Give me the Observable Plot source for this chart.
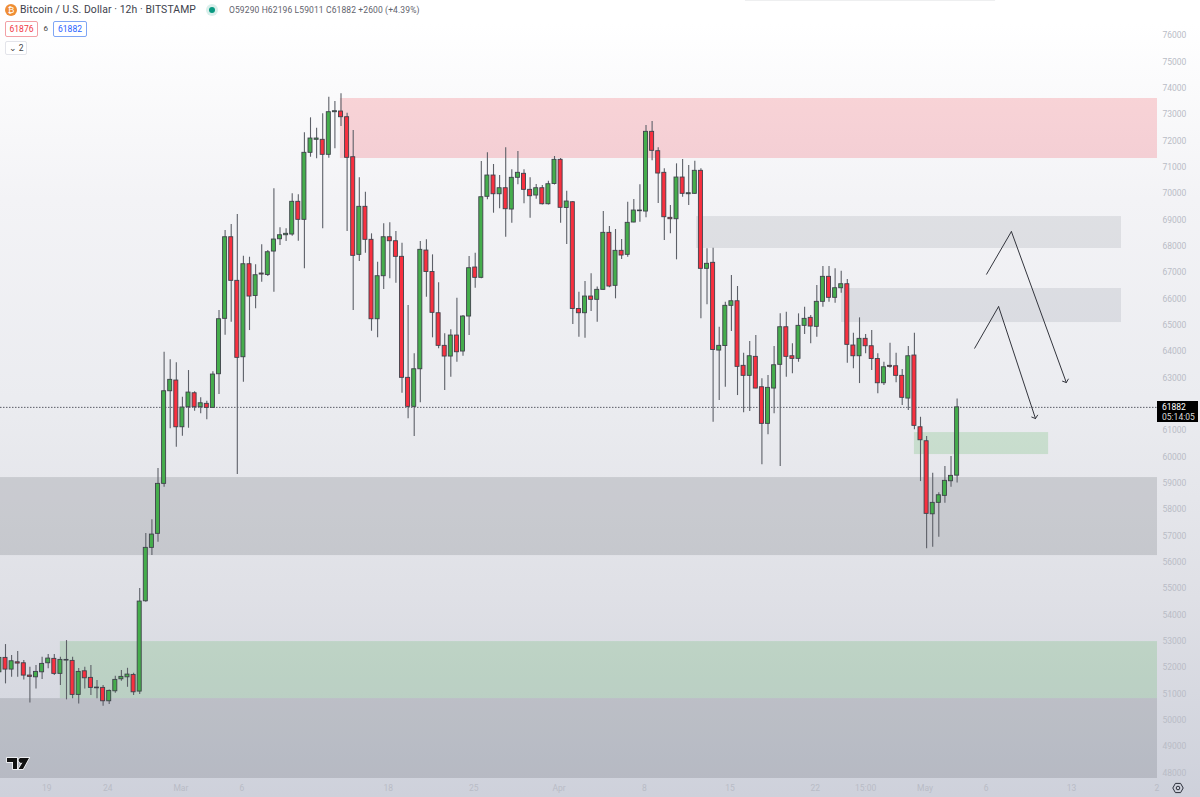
<!DOCTYPE html>
<html>
<head>
<meta charset="utf-8">
<script src="https://cdn.jsdelivr.net/npm/d3@7"></script>
<script src="https://cdn.jsdelivr.net/npm/@observablehq/plot@0.6"></script>
<style>
html,body{margin:0;padding:0;background:#fff;overflow:hidden}
#wrap{position:relative;width:1200px;height:797px;font-family:Roboto,"Liberation Sans",sans-serif}
#wrap svg{display:block}
.ov{position:absolute;white-space:nowrap;line-height:1}
.box{position:absolute;box-sizing:border-box;border-radius:2px;text-align:center}
</style>
</head>
<body>
<div id="wrap"></div>
<script>
const open = [51824,52371,51927,52204,52167,51699,51634,51824,52167,52334,
51764,52269,52257,50966,51862,51612,51243,51232,50724,51103,
51559,51634,51725,51092,54520,56548,57080,58978,62494,62901,
61127,61887,62418,61887,62016,61864,63140,65243,68341,66686,
63785,67316,66109,66963,66906,67798,68265,68417,68444,69686,
69002,71546,72040,72040,71470,73088,73114,72898,71379,67673,
69496,68243,65228,66861,68341,68190,67597,63003,61902,63329,
67836,67020,65456,64218,63812,64609,64002,65331,67191,66800,
69876,70684,69974,70202,69393,70597,70749,70141,69925,70202,
69594,70361,71280,69450,69670,65615,65456,66090,65965,66344,
68508,66496,67825,67673,68900,69329,69317,72343,71607,70787,
69078,69025,70608,69974,69989,70863,67142,67370,64039,64210,
65737,65911,63459,63079,63800,62646,61256,62597,63497,64924,
63823,63724,64977,65281,64939,65889,66838,66041,66405,66557,
64230,63823,64484,64203,63717,62798,63459,63443,63079,62217,
63850,61127,60596,57823,58257,58522,59077,59290];
const close = [52371,51927,52243,52155,51699,51650,51839,52143,52345,51764,
52295,52295,50966,51839,51597,51232,51217,50724,51118,51536,
51650,51737,51065,54509,56548,57053,58978,62494,62927,61127,
61875,62444,61887,62038,61864,63128,65228,68341,66686,63762,
67316,66090,66899,66925,67772,68254,68417,68471,69686,69002,
71546,72089,72089,71470,73088,73126,72898,71356,67635,69496,
68243,65228,66861,68341,68190,67597,63003,61902,63329,67863,
67020,65471,64218,63812,64609,63975,65331,67165,66800,69860,
70684,69974,70202,69405,70597,70787,70141,69898,70202,69594,
70354,71280,69458,69697,65615,65456,66090,65965,66344,68508,
66470,67825,67647,68888,69355,69355,72343,71622,70760,69101,
69025,70608,69989,70012,70863,67142,67332,64059,64218,65737,
65911,63420,63079,63823,62597,61256,62623,63481,64924,63800,
63724,64977,65243,64951,65889,66838,66041,66405,66557,64256,
63823,64484,64203,63717,62798,63405,63420,63079,62244,63823,
61180,60634,57839,58257,58545,59092,59282,61882];
const high = [52497,52877,52459,52611,52269,52014,52079,52394,52497,52497,
52394,53028,52394,51965,52014,52079,51509,51320,51156,51673,
51889,51976,51786,55003,57091,57611,59559,63975,63686,63573,
62266,63280,62471,62244,62115,63231,65558,68596,68824,69203,
67620,67582,67294,68053,67836,70179,68698,68661,69989,69951,
72306,72875,72480,73027,73657,73494,73786,73050,72393,70597,
70050,68471,67392,68850,68888,68558,68113,65748,63914,68178,
68243,67673,66610,64673,64825,66025,65368,67609,67734,71216,
71546,71102,70684,71736,70901,71596,70901,70597,70343,70305,
70468,71406,71330,70088,69697,66253,66659,66952,66451,69317,
68748,68634,68254,69670,69773,70331,72583,72735,71736,70939,
69545,71128,71292,71064,71227,70939,67901,67924,64924,65873,
66887,66470,63937,64381,64609,62965,63090,64191,65433,65494,
64294,65433,65684,65368,66507,67229,67229,67142,67051,66735,
64696,65281,64647,64799,63914,63595,64317,63937,63318,64191,
64696,61507,60774,59380,58636,59635,60015,62196];
const low = [51574,51384,51634,51634,51536,50663,51194,51547,51954,51699,
51320,50777,50815,50625,51194,50940,50815,50534,50599,51027,
51483,51255,50940,50978,54482,56256,56761,58849,61066,60368,
60786,61090,61735,61636,61408,61856,62369,64621,65114,59331,
62836,64799,65623,66633,66849,66253,68026,68178,68380,68190,
67142,71379,71318,68661,71341,71698,72545,68558,65558,67419,
67734,64772,64522,66356,66762,66595,62418,61446,60774,62054,
66063,64522,64104,62521,63026,63595,63823,64609,66405,66762,
69762,69253,69420,68341,68873,70331,69610,69063,69785,69564,
69564,70324,68873,68064,65027,64544,64506,65520,65114,66337,
66420,66003,67495,67582,68888,68911,69078,71242,69621,68216,
68471,67483,69860,69545,69974,65243,65775,61317,62141,62646,
64761,62331,61674,61723,62585,59700,60838,61636,59635,63026,
63155,63595,64647,64294,64545,65684,65873,65835,66215,63557,
63345,62786,63914,63280,62396,62710,63368,62813,61951,61761,
61029,59065,56510,56571,56950,58242,58849,59011];

const lastPrice = 61882;
// 62000 is hidden behind the last-price tag in the reference
const priceTicks = d3.range(48000, 76001, 1000).filter(d => d !== 62000);
const tickDates = ["2024-02-19","2024-02-24","2024-03-01","2024-03-06","2024-03-18","2024-03-25","2024-04-01","2024-04-08","2024-04-15","2024-04-22","2024-04-26T03:00","2024-05-01","2024-05-06","2024-05-13","2024-05-20"];
const tickLabels = ["19","24","Mar","6","18","25","Apr","8","15","22","15:00","May","6","13","2"];

// zones: start / end in 12h bars from the first candle, prices for top and bottom
const zoneStart = [55.9, 114.3, 138.05, 150, 0, 10, 0, 122.3];
const zoneEnd   = [189.85, 183.95, 183.95, 172, 189.85, 189.85, 189.85, 163.3];
const zoneHigh  = [73608, 69127, 66394, 60926, 59217, 52990, 50826, 77329];
const zoneLow   = [71330, 67913, 65103, 60090, 56256, 50826, 47792, 77300];
const zoneFill  = ["rgba(242,54,69,.2)","rgba(120,123,134,.16)","rgba(120,123,134,.16)","rgba(76,175,80,.2)","rgba(42,46,57,.15)","rgba(76,175,80,.2)","rgba(42,46,57,.15)","rgba(120,123,134,.16)"];

// the two hand-drawn forecast paths: up-leg start, peak, arrow tip
const pathBar   = [[159.85, 163.8, 169.85], [161.8, 165.9, 174.9]];
const pathPrice = [[64115, 65710, 61457], [66925, 68558, 62824]];

const barMs = 12 * 3600e3;
const t0 = Date.UTC(2024, 1, 15);
const at = i => new Date(t0 + i * barMs);
const candles = open.map((o, i) => ({date: at(i), o, c: close[i], h: high[i], l: low[i]}));
const zones = zoneStart.map((s, i) => ({s: at(s), e: at(zoneEnd[i]), hi: zoneHigh[i], lo: zoneLow[i], fill: zoneFill[i]}));
const upLegs = pathBar.map((b, i) => ({x1: at(b[0]), y1: pathPrice[i][0], x2: at(b[1]), y2: pathPrice[i][1]}));
const downLegs = pathBar.map((b, i) => ({x1: at(b[1]), y1: pathPrice[i][1], x2: at(b[2]), y2: pathPrice[i][2]}));
const tickMap = new Map(tickDates.map((d, i) => [+new Date(d + (d.includes("T") ? ":00Z" : "T00:00:00Z")), tickLabels[i]]));
const halfBody = 0.33 * barMs;
const axisGrey = "#b9bcc6";

const chart = Plot.plot({
  width: 1200, height: 797,
  marginLeft: 0, marginRight: 43, marginTop: 0, marginBottom: 19,
  style: {background: "linear-gradient(#ffffff 3%, #f3f3f6 25%, #ebecf0 50%, #dfe0e6 75%, #ced1db 100%)", fontFamily: "Roboto, 'Liberation Sans', sans-serif", fontSize: "8.5px"},
  x: {type: "utc", domain: [at(0.18), at(189.85)]},
  y: {domain: [47792, 77329]},
  marks: [
    Plot.rect(zones, {x1: "s", x2: "e", y1: "lo", y2: "hi", fill: "fill"}),
    Plot.ruleY([lastPrice], {stroke: "#5a5c66", strokeWidth: 1, strokeDasharray: "1.5 1.5"}),
    Plot.ruleX(candles, {x: "date", y1: "l", y2: "h", stroke: "#5d6068", strokeWidth: 1.1}),
    Plot.rect(candles, {
      x1: d => new Date(+d.date - halfBody), x2: d => new Date(+d.date + halfBody),
      y1: "o", y2: "c",
      fill: d => d.c >= d.o ? "#45ad4c" : "#f8303f",
      stroke: "#3f424b", strokeWidth: 0.9
    }),
    Plot.link(upLegs, {x1: "x1", y1: "y1", x2: "x2", y2: "y2", stroke: "#33353d", strokeWidth: 1}),
    Plot.arrow(downLegs, {x1: "x1", y1: "y1", x2: "x2", y2: "y2", stroke: "#33353d", strokeWidth: 1, headLength: 6, headAngle: 100}),
    Plot.axisY({anchor: "right", ticks: priceTicks, tickSize: 0, tickPadding: 5, tickFormat: d => String(d), color: axisGrey, label: null}),
    Plot.axisX({anchor: "bottom", ticks: [...tickMap.keys()].map(d => new Date(d)), tickSize: 0, tickPadding: 6, dx: -1.5, tickFormat: d => tickMap.get(+d), color: axisGrey, label: null})
  ]
});
const wrap = document.getElementById("wrap");
wrap.appendChild(chart);

const overlay = `
<div class="ov" style="left:5px;top:4px;width:12px;height:12px;border-radius:50%;background:#ef8e35;color:#fff;font-size:9px;line-height:12px;text-align:center">₿</div>
<div class="ov" style="left:20px;top:5px;font-size:10.4px;color:#3d414c;letter-spacing:.1px">Bitcoin / U.S. Dollar · 12h · BITSTAMP</div>
<div class="ov" style="left:206px;top:4px;width:12px;height:12px;border-radius:50%;background:#d9efeb"></div>
<div class="ov" style="left:209px;top:7px;width:6px;height:6px;border-radius:50%;background:#089981"></div>
<div class="ov" style="left:229px;top:6px;font-size:8.5px;color:#5f636d;letter-spacing:.12px">O59290 H62196 L59011 C61882 +2600 (+4.39%)</div>
<div class="box" style="left:5px;top:21px;width:33px;height:16px;border:1px solid #f2a0a5;background:#fff;color:#f23645;font-size:8.5px;line-height:14px">61876</div>
<div class="ov" style="left:43.5px;top:25px;font-size:8px;color:#444">6</div>
<div class="box" style="left:53px;top:21px;width:34px;height:16px;border:1px solid #7fa6f5;background:#fff;color:#2962ff;font-size:8.5px;line-height:14px">61882</div>
<div class="box" style="left:5px;top:41px;width:22px;height:14px;border:1px solid #e3e4ea;background:#fff;color:#444;font-size:8.5px;line-height:12px">⌄ 2</div>
<div class="ov" style="left:1157px;top:401px;width:41px;height:21px;background:#000;color:#fff;font-size:8.5px;line-height:10px;padding:0;box-sizing:border-box">
  <div style="margin-left:5px;margin-top:1px">61882</div><div style="margin-left:5px;color:#dadada">05:14:05</div></div>
<svg class="ov" style="left:5px;top:756px" width="26" height="17" viewBox="0 0 26 17">
  <path d="M2 2H12V13H8V6H2Z M15 2H24L18 13H13.5L17.5 6.5A2 2 0 1 1 15 2Z" fill="#111" stroke="#fff" stroke-width="1.4" paint-order="stroke"/>
</svg>
<svg class="ov" style="left:1172px;top:782px" width="12" height="12" viewBox="0 0 12 12">
  <path d="M3.4 1.4H8.6L11.2 6L8.6 10.6H3.4L.8 6Z" fill="none" stroke="#2a2e39" stroke-width="1"/>
  <circle cx="6" cy="6" r="1.8" fill="none" stroke="#2a2e39" stroke-width="1"/>
</svg>`;
wrap.insertAdjacentHTML("beforeend", overlay);
</script>
</body>
</html>
